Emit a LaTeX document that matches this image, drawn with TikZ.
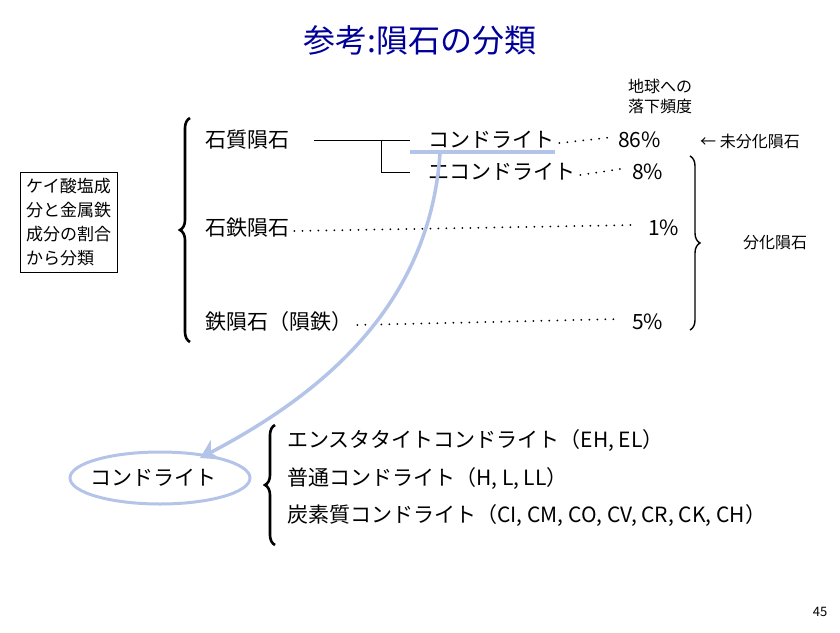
\documentclass[tikz,border=0pt]{standalone}
\usepackage{fontspec}
\newfontfamily\jp{Noto Sans CJK JP}
\usetikzlibrary{decorations.pathreplacing,arrows.meta,shapes.geometric}
\definecolor{hlc}{RGB}{180,196,232}
\begin{document}
\begin{tikzpicture}[x=1pt,y=-1pt,
  t/.style={font=\jp\fontsize{21}{24}\selectfont,anchor=west,inner sep=0},
  s/.style={font=\jp\fontsize{16}{20}\selectfont,inner sep=0},
  dl/.style={line width=2pt,dash pattern=on 0pt off 8pt,line cap=round},
  br/.style={decorate,decoration={brace,amplitude=10pt},line width=2.6pt},
  hl/.style={draw=hlc,line width=3.5pt}]
\useasboundingbox (0,0) rectangle (840,632);
\node[font=\jp\fontsize{32}{36}\selectfont,text=blue!60!black] (title) at (420,40) {参考:隕石の分類};
\node[draw,s,font=\jp\fontsize{17}{24}\selectfont,align=left,inner sep=6pt,anchor=north west] (box) at (20,172) {ケイ酸塩成\\分と金属鉄\\成分の割合\\から分類};
\draw[br] (190,342) -- (190,118);
\node[t] (a) at (205,140) {石質隕石};
\node[t] (c) at (428,140) {コンドライト};
\node[t] (c2) at (618,140) {86\%};
\node[t] (e) at (428,172) {エコンドライト};
\node[t] (e2) at (632,172) {8\%};
\node[t] (b) at (205,228) {石鉄隕石};
\node[t] (b2) at (648,228) {1\%};
\node[t] (d) at (205,322) {鉄隕石（隕鉄）};
\node[t] (d2) at (632,322) {5\%};
\draw[line width=1pt] (314,140) -- (410,140);
\draw[line width=1pt] (381,140) -- (381,172) -- (410,172);
\draw[dl] (c.east)++(5,3) -- ([xshift=-3pt,yshift=3pt]c2.west);
\draw[dl] (e.east)++(5,3) -- ([xshift=-12pt,yshift=3pt]e2.west);
\draw[dl] (b.east)++(5,3) -- ([xshift=-12pt,yshift=3pt]b2.west);
\draw[dl] (d.east)++(5,3) -- ([xshift=-12pt,yshift=3pt]d2.west);
\node[s,align=left] (freq) at (660,96) {地球への\\落下頻度};
\node[s,anchor=west] (mi) at (700,141) {← 未分化隕石};
\draw[br,line width=1.4pt] (690,156) -- (690,330);
\node[s,anchor=west] (bun) at (743,243) {分化隕石};
\draw[hl] (410,152) -- (555,152);
\node[draw=hlc,line width=3pt,ellipse,minimum width=180pt,minimum height=52pt] (ell) at (160,478) {};
\draw[hl,-{Stealth[length=18pt,width=22pt]}] (440,153) .. controls (430,300) and (330,390) .. (200,458);
\node[t] (ch) at (90,478) {コンドライト};
\draw[br] (275,545) -- (275,425);
\node[t] (i1) at (287,440) {エンスタタイトコンドライト（EH, EL）};
\node[t] (i2) at (287,478) {普通コンドライト（H, L, LL）};
\node[t] (i3) at (287,515) {炭素質コンドライト（CI, CM, CO, CV, CR, CK, CH）};
\node[s,font=\jp\fontsize{13}{14}\selectfont] (pg) at (820,612) {45};
\end{tikzpicture}
\end{document}
